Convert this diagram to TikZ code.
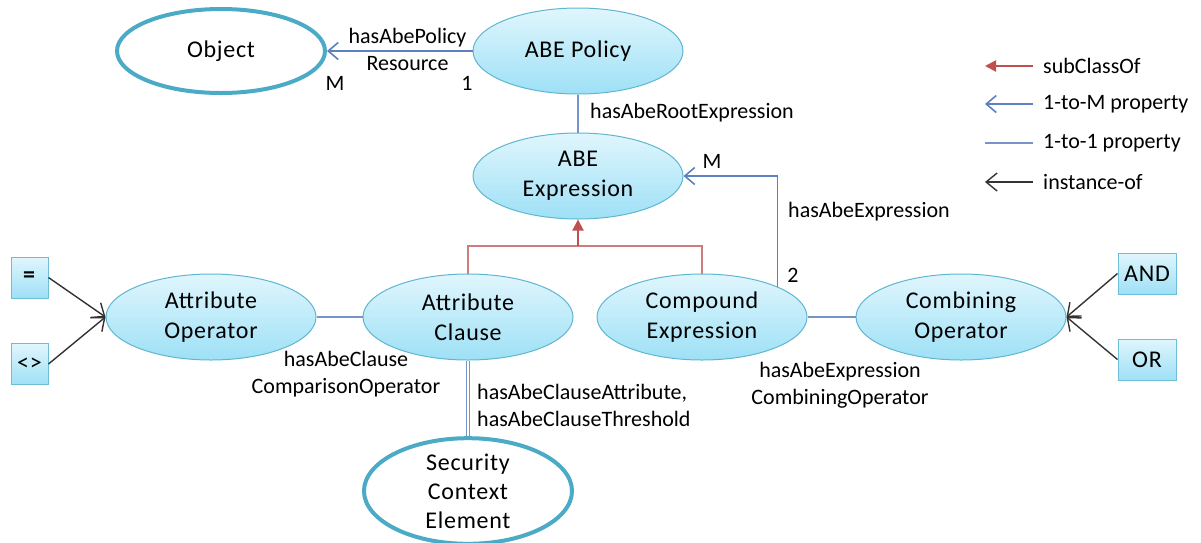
\documentclass[tikz,border=0pt]{standalone}
\usepackage{fontspec}
\setmainfont{Carlito}
\newfontfamily\clsfont[LetterSpace=3]{Carlito}
\usetikzlibrary{shapes.geometric,arrows.meta}

\definecolor{fillTop}{RGB}{224,246,253}
\definecolor{fillBot}{RGB}{158,224,246}
\definecolor{rimBlue}{RGB}{96,182,208}
\definecolor{rimThick}{RGB}{75,170,198}
\definecolor{linkBlue}{RGB}{118,148,200}
\definecolor{arrBlue}{RGB}{92,128,192}
\definecolor{subRed}{RGB}{192,80,77}
\definecolor{subRedLight}{RGB}{205,125,125}
\definecolor{boxRim}{RGB}{110,190,215}

\tikzset{
  cls/.style={ellipse, draw=rimBlue, line width=1pt, top color=fillTop, bottom color=fillBot,
    minimum width=210pt, minimum height=86pt, inner sep=0pt, align=center,
    font=\clsfont\fontsize{24}{30}\selectfont},
  extcls/.style={ellipse, draw=rimThick, line width=4pt, fill=white,
    minimum width=208pt, minimum height=84pt, inner sep=0pt, align=center,
    font=\clsfont\fontsize{24}{29}\selectfont},
  inst/.style={rectangle, draw=boxRim, line width=1pt, top color=fillTop, bottom color=fillBot,
    inner sep=0pt, minimum height=41pt, font=\clsfont\fontsize{24}{28}\selectfont},
  lbl/.style={inner sep=0pt, align=center, font=\fontsize{22}{27}\selectfont},
  lbll/.style={lbl, align=left, anchor=west},
  oneone/.style={draw=linkBlue, line width=1.6pt},
  onem/.style={draw=arrBlue, line width=1.6pt, -{Straight Barb[length=10pt,width=17pt,line width=1.6pt]}},
  instof/.style={draw=black!80, line width=1.4pt, -{Straight Barb[length=11pt,width=18pt,line width=1.4pt]}},
  subline/.style={draw=subRedLight, line width=1.6pt},
  subarrow/.style={draw=subRed, line width=2pt, -{Triangle[length=11pt,width=11pt]}},
  dblline/.style={draw=linkBlue, line width=1.2pt, double=white, double distance=2.5pt},
}

\begin{document}
\begin{tikzpicture}[x=1pt,y=-1pt]
\useasboundingbox (0,0) rectangle (1201,542);

% classes
\node[extcls] (obj) at (221,51) {Object};
\node[cls] (pol) at (578,51) {ABE Policy};
\node[cls] (expr) at (578,176) {ABE\\Expression};
\node[cls] (aop) at (211,317) {Attribute\\Operator};
\node[cls] (clause) at (468,317) {Attribute\\Clause};
\node[cls] (cmpd) at (702,317) {Compound\\Expression};
\node[cls] (comb) at (961,317) {Combining\\Operator};
\node[extcls, minimum height=100pt] (sce) at (468,491) {Security\\Context\\Element};

% individuals
\node[inst, minimum width=37pt] (eq) at (29.5,277.5) {\textbf{=}};
\node[inst, minimum width=37pt] (ne) at (29.5,364) {<>};
\node[inst, minimum width=58pt] (and) at (1147,273.5) {AND};
\node[inst, minimum width=58pt] (or) at (1147,359.5) {OR};

% properties
\draw[onem] (pol.west) -- (obj.east);
\node[lbl] (lpolres) at (407.5,49) {hasAbePolicy\\Resource};
\node[lbl] (lm1) at (335,83) {M};
\node[lbl] (l11) at (467,83) {1};

\draw[oneone] (pol.south) -- (expr.north);
\node[lbll] (lroot) at (590,113) {hasAbeRootExpression};

\draw[onem] (cmpd.22.5) |- (expr.east);
\node[lbl] (lm2) at (712,161) {M};
\node[lbl] (l2) at (793,275) {2};
\node[lbll] (lexpr) at (788,212) {hasAbeExpression};

% subclasses
\coordinate (join) at (578,246);
\draw[subline] (clause.north) |- (join) -| (cmpd.north);
\draw[subarrow] (join) -- (expr.south);

\draw[oneone] (aop.east) -- (clause.west);
\node[lbl] (lcmp) at (346,374.5) {hasAbeClause\\ComparisonOperator};

\draw[oneone] (cmpd.east) -- (comb.west);
\node[lbl] (lcomb) at (840,385.5) {hasAbeExpression\\CombiningOperator};

\draw[dblline] (clause.south) -- (sce.north);
\node[lbl, align=left, anchor=west] (lattr) at (477,405) {hasAbeClauseAttribute,\\hasAbeClauseThreshold};

% instance-of
\draw[instof] (eq.east) -- (aop.west);
\draw[instof] (ne.east) -- (aop.west);
\draw[instof] (and.west) -- (comb.east);
\draw[instof] (or.west) -- (comb.east);

% legend
\coordinate (k1a) at (1033,66);  \coordinate (k1b) at (985,66);
\coordinate (k2a) at (1033,104); \coordinate (k2b) at (985,104);
\coordinate (k3a) at (1033,143); \coordinate (k3b) at (985,143);
\coordinate (k4a) at (1033,182); \coordinate (k4b) at (985,182);
\draw[subarrow] (k1a) -- (k1b);
\draw[onem] (k2a) -- (k2b);
\draw[oneone] (k3a) -- (k3b);
\draw[instof] (k4a) -- (k4b);
\node[lbll] (t1) at (1043,66) {subClassOf};
\node[lbll] (t2) at (1043,104) {1-to-M property};
\node[lbll] (t3) at (1043,143) {1-to-1 property};
\node[lbll] (t4) at (1043,182) {instance-of};
\end{tikzpicture}
\end{document}
